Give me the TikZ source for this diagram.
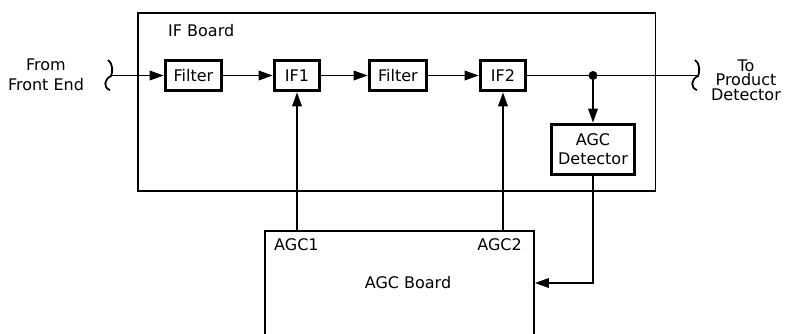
\documentclass[tikz,border=0pt]{standalone}
\usepackage{fontspec}
\setmainfont{DejaVu Sans}
\usetikzlibrary{arrows.meta}

\tikzset{
  blk/.style={draw,line width=3.6pt,minimum height=30pt,inner sep=0pt},
  board/.style={draw,line width=1.8pt,inner sep=0pt},
  sig/.style={line width=1.8pt},
  arr/.style={sig,-{Triangle[length=14pt,width=9.5pt]}},
  lbl/.style={inner sep=0pt,align=center},
}
% break mark on a cut signal line
\newcommand\brkmark[1]{\draw[sig] (#1-2,60) .. controls (#1+3,63) and (#1+3,72) .. (#1+1,76) .. controls (#1-6,79) and (#1-7,88) .. (#1,90);}

\begin{document}
\begin{tikzpicture}[x=1pt,y=-1pt,font=\fontsize{16}{20}\selectfont]
\useasboundingbox (0,0) rectangle (785,333);
\draw[board] (138,13) rectangle (655.5,191);
\node (ifboard) [lbl,anchor=west] at (168,31) {IF Board};
\node (filt1) [blk,minimum width=56pt] at (193.5,75.5) {Filter};
\node (if1) [blk,minimum width=45pt] at (297,75.5) {IF1};
\node (filt2) [blk,minimum width=57pt] at (398,75.5) {Filter};
\node (if2) [blk,minimum width=45pt] at (503,75.5) {IF2};
\node (agcdet) [blk,minimum width=83pt,minimum height=50pt,align=center] at (593,149.5) {AGC\\[-1pt]Detector};
\node (agcboard) [board,minimum width=269pt,minimum height=104pt] at (399.5,283) {};
\node (agcb) [lbl] at (408,283) {AGC Board};
\node (agcone) [lbl,anchor=west] at (274,245) {AGC1};
\node (agctwo) [lbl,anchor=east] at (522,245) {AGC2};
\node (src) [lbl] at (46,75) {From\\Front End};
\node (dst) [lbl,font=\fontsize{16}{14.5}\selectfont] at (746,80) {To\\Product\\Detector};
\coordinate (inbrk) at (111,75.5);
\coordinate (outbrk) at (697,75.5);
\coordinate (tap) at (agcdet.north |- if2.east);
\brkmark{110}
\brkmark{697}
\draw[arr] (inbrk) -- (filt1);
\draw[arr] (filt1) -- (if1);
\draw[arr] (if1) -- (filt2);
\draw[arr] (filt2) -- (if2);
\draw[sig] (if2) -- (outbrk);
\fill (tap) circle (4.5pt);
\draw[arr] (tap) -- (agcdet);
\draw[arr] (agcboard.north -| if1) -- (if1);
\draw[arr] (agcboard.north -| if2) -- (if2);
\draw[arr] (agcdet) |- (agcboard);
\end{tikzpicture}
\end{document}
